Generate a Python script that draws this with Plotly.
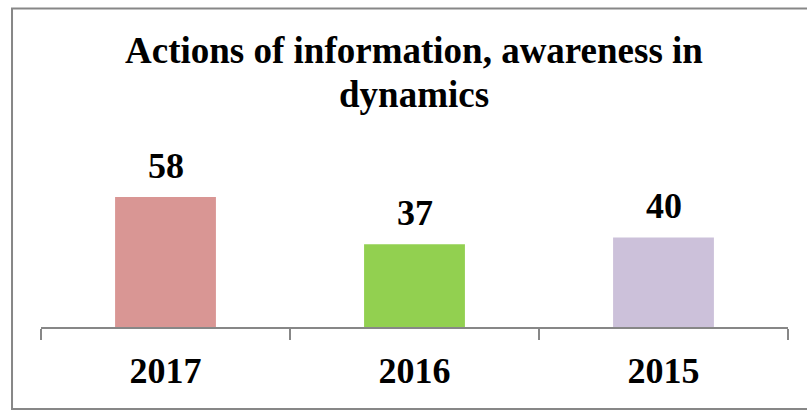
import plotly.graph_objects as go

years = ["2017", "2016", "2015"]
values = [58, 37, 40]
colors = ["#D99694", "#92D050", "#CCC1DA"]
title_lines = ["Actions of information, awareness in", "dynamics"]

FONT = "Liberation Serif"

fig = go.Figure(
    go.Bar(
        x=years,
        y=values,
        marker=dict(color=colors, line=dict(width=0)),
        width=0.405,
        hoverinfo="skip",
    )
)

for i, v in enumerate(values):
    fig.add_annotation(
        x=i, y=v, xref="x", yref="y",
        text="<b>%d</b>" % v,
        showarrow=False,
        yanchor="bottom",
        yshift=9,
        font=dict(family=FONT, size=36, color="black"),
    )

# chart title, one annotation per line (tighter line spacing)
for k, line in enumerate(title_lines):
    fig.add_annotation(
        x=0.4993, y=1.60, xref="paper", yref="paper",
        xanchor="center", yanchor="top",
        yshift=-44 * k,
        text="<b>" + line + "</b>",
        showarrow=False, align="center",
        font=dict(family=FONT, size=37, color="black"),
    )

# outer chart border (right side runs past the visible edge)
fig.add_shape(
    type="rect", xref="paper", yref="paper",
    x0=-0.0388, x1=1.08, y0=-0.4385, y1=1.703,
    line=dict(color="#878787", width=2),
    fillcolor="rgba(0,0,0,0)",
    layer="below",
)

fig.update_layout(
    width=807, height=412,
    margin=dict(l=41, r=19, t=140, b=85, autoexpand=False),
    paper_bgcolor="white",
    plot_bgcolor="white",
    showlegend=False,
    xaxis=dict(
        type="category",
        range=[-0.5, 2.5], automargin=False,
        showline=True, linecolor="#878787", linewidth=1.5,
        ticks="outside", tickson="boundaries", ticklen=11,
        tickcolor="#878787", tickwidth=1.5,
        showgrid=False, zeroline=False,
        tickfont=dict(family=FONT, size=36, color="black"),
        ticklabelstandoff=11, tickangle=0,
        tickprefix="<b>", ticksuffix="</b>",
    ),
    yaxis=dict(
        range=[0, 83.5], visible=False, showgrid=False, zeroline=False,
        automargin=False,
    ),
)

fig.write_html(
    "out.html",
    config={"displayModeBar": False, "staticPlot": True},
    post_script="document.body.style.margin='0';document.body.style.overflow='hidden';",
)
